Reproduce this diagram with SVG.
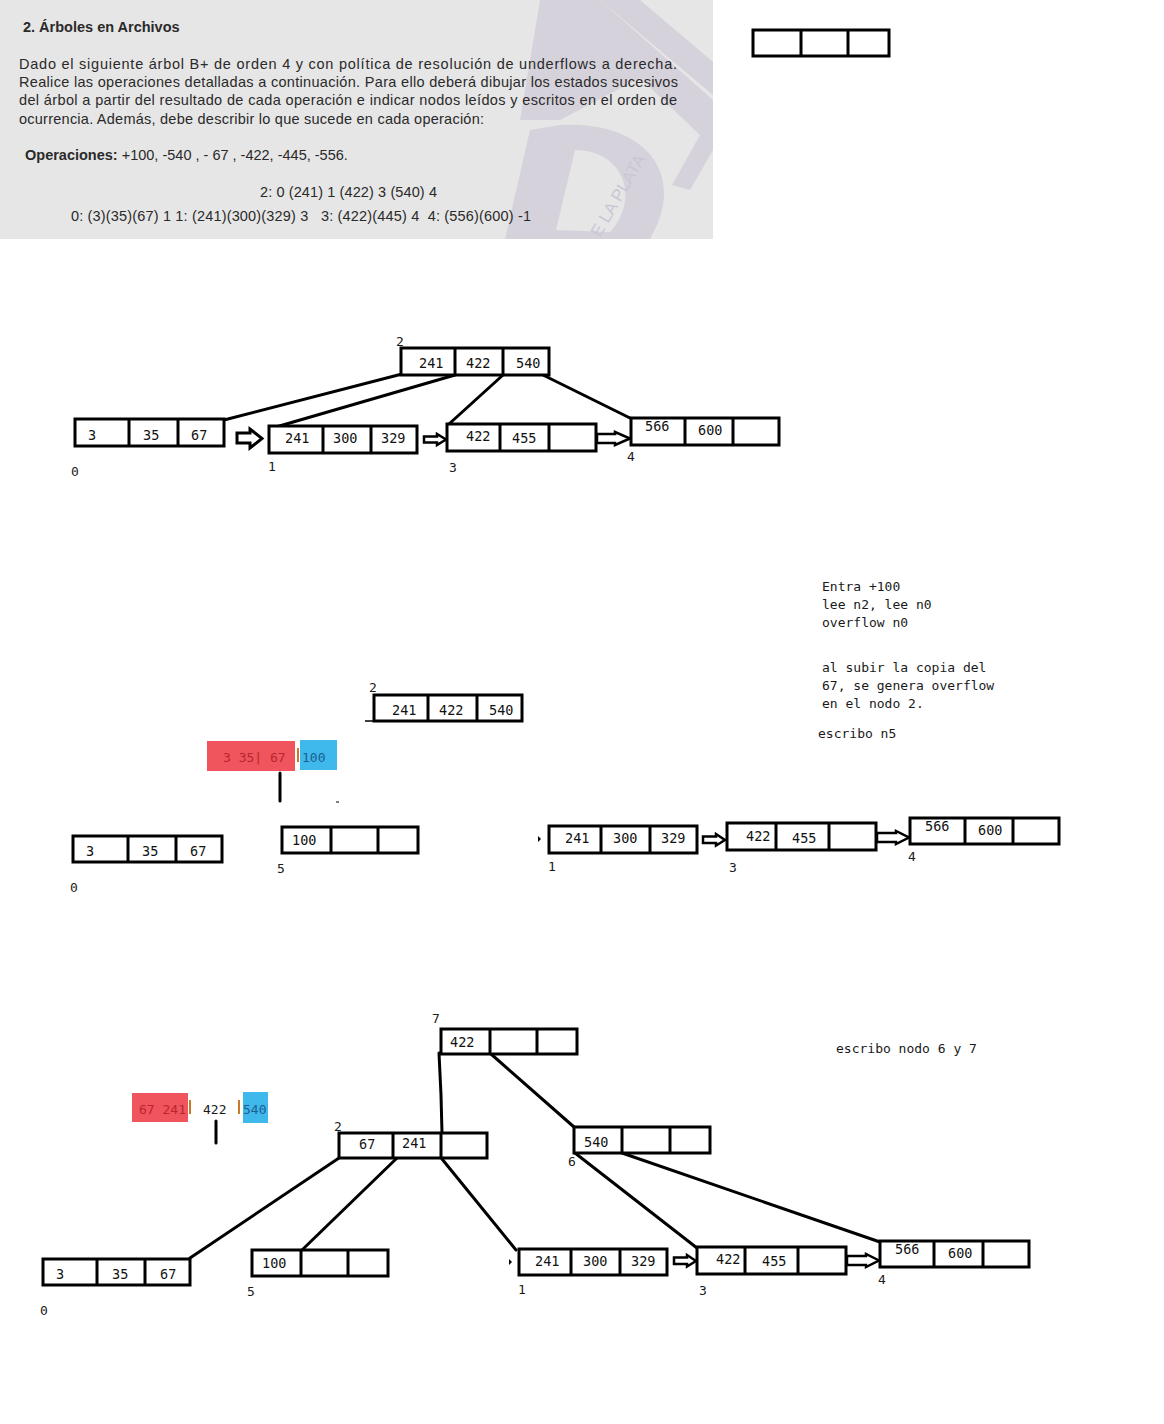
<svg xmlns="http://www.w3.org/2000/svg" width="1164" height="1424" viewBox="0 0 1164 1424">
<style>
.bx{fill:#fff;stroke:#000;stroke-width:3}
.dv{stroke:#000;stroke-width:3}
.ln{stroke:#000;stroke-width:3;fill:none;stroke-linecap:round}
.ar{fill:#fff;stroke:#000;stroke-width:3;stroke-linejoin:miter}
.ar2{fill:#fff;stroke:#000;stroke-width:2.5}
.v{font-family:"DejaVu Sans Mono","Liberation Mono",monospace;font-size:13.5px;fill:#111}
.lb{font-family:"DejaVu Sans Mono","Liberation Mono",monospace;font-size:13px;fill:#1a1a1a}
.nt{font-family:"DejaVu Sans Mono","Liberation Mono",monospace;font-size:13px;fill:#1a1a1a;white-space:pre}
.h{font-family:"Liberation Sans",Arial,sans-serif;font-size:14.5px;fill:#2a2a2a;white-space:pre}
.hb{font-weight:bold}
</style>

<!-- scanned header -->
<g id="header">
<rect x="0" y="0" width="713" height="239" fill="#e6e6e6"/>
<g fill="#cdc6d6" opacity="0.6">
<polygon points="540,0 600,0 713,100 713,150 690,190 672,185 700,135 640,78 560,120 520,120"/>
<path d="M505,239 L530,130 L560,125 C640,120 690,170 650,239 Z M575,150 L556,230 L610,232 C640,200 625,150 575,150 Z" fill-rule="evenodd"/>
<polygon points="600,0 640,0 713,62 713,95"/>
</g>
<text x="600" y="238" transform="rotate(-60 600 238)" font-family="Liberation Sans,sans-serif" font-size="17" fill="#ccc5d5">E LA PLATA</text>
<text class="h hb" x="23" y="32" font-size="15">2. Árboles en Archivos</text>
<text class="h" x="19" y="69" textLength="658" lengthAdjust="spacing">Dado el siguiente árbol B+ de orden 4 y con política de resolución de underflows a derecha.</text>
<text class="h" x="19" y="87" textLength="659" lengthAdjust="spacing">Realice las operaciones detalladas a continuación. Para ello deberá dibujar los estados sucesivos</text>
<text class="h" x="19" y="105" textLength="658" lengthAdjust="spacing">del árbol a partir del resultado de cada operación e indicar nodos leídos y escritos en el orden de</text>
<text class="h" x="19" y="124" textLength="465" lengthAdjust="spacing">ocurrencia. Además, debe describir lo que sucede en cada operación:</text>
<text class="h" x="25" y="160"><tspan class="hb">Operaciones:</tspan> +100, -540 , - 67 , -422, -445, -556.</text>
<text class="h" x="260" y="197" textLength="177" lengthAdjust="spacing">2: 0 (241) 1 (422) 3 (540) 4</text>
<text class="h" x="71" y="221" textLength="460" lengthAdjust="spacing">0: (3)(35)(67) 1 1: (241)(300)(329) 3   3: (422)(445) 4  4: (556)(600) -1</text>
</g>

<!-- empty node top right -->
<g id="empty-node">
<rect class="bx" x="753" y="30" width="136" height="26"/>
<line class="dv" x1="801" y1="30" x2="801" y2="57"/>
<line class="dv" x1="848" y1="30" x2="848" y2="56"/>
</g>

<!-- ========== TREE 1 ========== -->
<g id="t1-connectors">
<line class="ln" x1="402" y1="374" x2="224" y2="420"/>
<line class="ln" x1="455" y1="375" x2="276" y2="427"/>
<line class="ln" x1="503" y1="375" x2="449" y2="424"/>
<line class="ln" x1="543" y1="375" x2="632" y2="419"/>
<path class="ar" d="M237,433 H250 V429 L262,438.5 L250,448 V443 H237 Z"/>
<path class="ar2" d="M424,436.5 H437 V434 L446,439.5 L437,445 V442.5 H424 Z"/>
<path class="ar2" d="M597,434 H615 V432 L630,438.5 L615,445 V443 H597 Z"/>
</g>
<g id="t1-n2">
<rect class="bx" x="401" y="348" width="148" height="27"/>
<line class="dv" x1="455" y1="348" x2="455" y2="375"/>
<line class="dv" x1="503" y1="348" x2="503" y2="375"/>
<text class="v" x="419" y="368">241</text><text class="v" x="466" y="368">422</text><text class="v" x="516" y="368">540</text>
<text class="lb" x="396" y="346">2</text>
</g>
<g id="t1-n0">
<rect class="bx" x="75" y="419" width="149" height="27"/>
<line class="dv" x1="129" y1="419" x2="129" y2="446"/>
<line class="dv" x1="178" y1="419" x2="178" y2="446"/>
<text class="v" x="88" y="440">3</text><text class="v" x="143" y="440">35</text><text class="v" x="191" y="440">67</text>
<text class="lb" x="71" y="476">0</text>
</g>
<g id="t1-n1">
<rect class="bx" x="269" y="426" width="148" height="27"/>
<line class="dv" x1="323" y1="426" x2="323" y2="453"/>
<line class="dv" x1="371" y1="426" x2="371" y2="453"/>
<text class="v" x="285" y="443">241</text><text class="v" x="333" y="443">300</text><text class="v" x="381" y="443">329</text>
<text class="lb" x="268" y="471">1</text>
</g>
<g id="t1-n3">
<rect class="bx" x="447" y="424" width="149" height="27"/>
<line class="dv" x1="500" y1="424" x2="500" y2="451"/>
<line class="dv" x1="549" y1="424" x2="549" y2="451"/>
<text class="v" x="466" y="441">422</text><text class="v" x="512" y="443">455</text>
<text class="lb" x="449" y="472">3</text>
</g>
<g id="t1-n4">
<rect class="bx" x="631" y="418" width="148" height="27"/>
<line class="dv" x1="685" y1="418" x2="685" y2="445"/>
<line class="dv" x1="733" y1="418" x2="733" y2="445"/>
<text class="v" x="645" y="431">566</text><text class="v" x="698" y="435">600</text>
<text class="lb" x="627" y="461">4</text>
</g>

<!-- ========== TREE 2 ========== -->
<g id="t2-notes">
<text class="nt" x="822" y="591">Entra +100</text>
<text class="nt" x="822" y="609">lee n2, lee n0</text>
<text class="nt" x="822" y="627">overflow n0</text>
<text class="nt" x="822" y="672">al subir la copia del</text>
<text class="nt" x="822" y="690">67, se genera overflow</text>
<text class="nt" x="822" y="708">en el nodo 2.</text>
<text class="nt" x="818" y="738">escribo n5</text>
</g>
<g id="t2-split">
<rect x="207" y="741" width="88" height="30" fill="#f0545c"/>
<rect x="300" y="740" width="37" height="30" fill="#3fb8ec"/>
<text class="nt" x="223" y="762" style="fill:#b8272d">3 35| 67</text>
<rect x="297" y="748" width="2" height="14" fill="#c87a28"/>
<text class="nt" x="302" y="762" style="fill:#1d5f93">100</text>
<line class="ln" x1="280" y1="773" x2="280" y2="801" stroke-linecap="butt"/>
<line x1="336" y1="802" x2="339" y2="802" stroke="#000" stroke-width="1"/>
</g>
<g id="t2-n2">
<rect class="bx" x="374" y="695" width="148" height="26"/>
<line class="dv" x1="428" y1="695" x2="428" y2="721"/>
<line class="dv" x1="477" y1="695" x2="477" y2="721"/>
<line x1="365" y1="721" x2="375" y2="721" stroke="#000" stroke-width="1.5"/>
<text class="v" x="392" y="715">241</text><text class="v" x="439" y="715">422</text><text class="v" x="489" y="715">540</text>
<text class="lb" x="369" y="692">2</text>
</g>
<g id="t2-n0">
<rect class="bx" x="73" y="836" width="149" height="26"/>
<line class="dv" x1="128" y1="836" x2="128" y2="862"/>
<line class="dv" x1="176" y1="836" x2="176" y2="862"/>
<text class="v" x="86" y="856">3</text><text class="v" x="142" y="856">35</text><text class="v" x="190" y="856">67</text>
<text class="lb" x="70" y="892">0</text>
</g>
<g id="t2-n5">
<rect class="bx" x="282" y="827" width="136" height="26"/>
<line class="dv" x1="331" y1="827" x2="331" y2="854"/>
<line class="dv" x1="378" y1="827" x2="378" y2="853"/>
<text class="v" x="292" y="845">100</text>
<text class="lb" x="277" y="873">5</text>
</g>
<g id="t2-leaves">
<polygon points="538,836 541,839 538,842" fill="#000"/>
<path class="ar2" d="M703,836.5 H716 V834 L725,840 L716,845.5 V843 H703 Z"/>
<path class="ar2" d="M877,833 H896 V831 L909,837.5 L896,844 V842 H877 Z"/>
</g>
<g id="t2-n1">
<rect class="bx" x="549" y="826" width="148" height="27"/>
<line class="dv" x1="601" y1="826" x2="601" y2="853"/>
<line class="dv" x1="650" y1="826" x2="650" y2="853"/>
<text class="v" x="565" y="843">241</text><text class="v" x="613" y="843">300</text><text class="v" x="661" y="843">329</text>
<text class="lb" x="548" y="871">1</text>
</g>
<g id="t2-n3">
<rect class="bx" x="727" y="823" width="149" height="27"/>
<line class="dv" x1="776" y1="823" x2="776" y2="850"/>
<line class="dv" x1="829" y1="823" x2="829" y2="850"/>
<text class="v" x="746" y="841">422</text><text class="v" x="792" y="843">455</text>
<text class="lb" x="729" y="872">3</text>
</g>
<g id="t2-n4">
<rect class="bx" x="910" y="818" width="149" height="26"/>
<line class="dv" x1="965" y1="818" x2="965" y2="844"/>
<line class="dv" x1="1013" y1="818" x2="1013" y2="844"/>
<text class="v" x="925" y="831">566</text><text class="v" x="978" y="835">600</text>
<text class="lb" x="908" y="861">4</text>
</g>

<!-- ========== TREE 3 ========== -->
<g id="t3-notes">
<text class="nt" x="836" y="1053">escribo nodo 6 y 7</text>
</g>
<g id="t3-split">
<rect x="132" y="1093" width="56" height="29" fill="#f0545c"/>
<rect x="243" y="1092" width="25" height="31" fill="#3fb8ec"/>
<text class="nt" x="139" y="1114" style="fill:#b8272d">67 241</text>
<rect x="189" y="1100" width="2" height="14" fill="#c87a28"/>
<text class="nt" x="203" y="1114">422</text>
<rect x="238" y="1100" width="2" height="14" fill="#c87a28"/>
<text class="nt" x="243" y="1114" style="fill:#1d5f93">540</text>
<line class="ln" x1="216" y1="1121" x2="216" y2="1143" stroke-linecap="butt"/>
</g>
<g id="t3-connectors">
<path class="ln" d="M439,1053 L441,1095 L442,1133"/>
<line class="ln" x1="491" y1="1054" x2="574" y2="1127"/>
<line class="ln" x1="339" y1="1158" x2="190" y2="1258"/>
<line class="ln" x1="397" y1="1158" x2="302" y2="1250"/>
<line class="ln" x1="442" y1="1159" x2="516" y2="1250"/>
<line class="ln" x1="575" y1="1153" x2="697" y2="1248"/>
<line class="ln" x1="622" y1="1153" x2="880" y2="1242"/>
<polygon points="509,1259 512,1262 509,1265" fill="#000"/>
<path class="ar2" d="M674,1257.5 H687 V1255 L696,1261 L687,1266.5 V1264 H674 Z"/>
<path class="ar2" d="M847,1256 H866 V1254 L879,1260.5 L866,1267 V1265 H847 Z"/>
</g>
<g id="t3-n7">
<rect class="bx" x="441" y="1029" width="136" height="25"/>
<line class="dv" x1="490" y1="1029" x2="490" y2="1055"/>
<line class="dv" x1="537" y1="1029" x2="537" y2="1055"/>
<text class="v" x="450" y="1047">422</text>
<text class="lb" x="432" y="1023">7</text>
</g>
<g id="t3-n2">
<rect class="bx" x="339" y="1133" width="148" height="25"/>
<line class="dv" x1="393" y1="1133" x2="393" y2="1159"/>
<line class="dv" x1="441" y1="1133" x2="441" y2="1159"/>
<text class="v" x="359" y="1149">67</text><text class="v" x="402" y="1148">241</text>
<text class="lb" x="334" y="1131">2</text>
</g>
<g id="t3-n6">
<rect class="bx" x="574" y="1127" width="136" height="26"/>
<line class="dv" x1="622" y1="1127" x2="622" y2="1154"/>
<line class="dv" x1="670" y1="1127" x2="670" y2="1154"/>
<text class="v" x="584" y="1147">540</text>
<text class="lb" x="568" y="1166">6</text>
</g>
<g id="t3-n0">
<rect class="bx" x="43" y="1259" width="147" height="26"/>
<line class="dv" x1="97" y1="1259" x2="97" y2="1285"/>
<line class="dv" x1="145" y1="1259" x2="145" y2="1285"/>
<text class="v" x="56" y="1279">3</text><text class="v" x="112" y="1279">35</text><text class="v" x="160" y="1279">67</text>
<text class="lb" x="40" y="1315">0</text>
</g>
<g id="t3-n5">
<rect class="bx" x="252" y="1250" width="136" height="26"/>
<line class="dv" x1="301" y1="1250" x2="301" y2="1277"/>
<line class="dv" x1="348" y1="1250" x2="348" y2="1276"/>
<text class="v" x="262" y="1268">100</text>
<text class="lb" x="247" y="1296">5</text>
</g>
<g id="t3-n1">
<rect class="bx" x="519" y="1249" width="148" height="26"/>
<line class="dv" x1="571" y1="1249" x2="571" y2="1276"/>
<line class="dv" x1="620" y1="1249" x2="620" y2="1276"/>
<text class="v" x="535" y="1266">241</text><text class="v" x="583" y="1266">300</text><text class="v" x="631" y="1266">329</text>
<text class="lb" x="518" y="1294">1</text>
</g>
<g id="t3-n3">
<rect class="bx" x="697" y="1247" width="149" height="27"/>
<line class="dv" x1="745" y1="1247" x2="745" y2="1274"/>
<line class="dv" x1="798" y1="1247" x2="798" y2="1274"/>
<text class="v" x="716" y="1264">422</text><text class="v" x="762" y="1266">455</text>
<text class="lb" x="699" y="1295">3</text>
</g>
<g id="t3-n4">
<rect class="bx" x="880" y="1241" width="149" height="26"/>
<line class="dv" x1="934" y1="1241" x2="934" y2="1267"/>
<line class="dv" x1="983" y1="1241" x2="983" y2="1267"/>
<text class="v" x="895" y="1254">566</text><text class="v" x="948" y="1258">600</text>
<text class="lb" x="878" y="1284">4</text>
</g>
</svg>
